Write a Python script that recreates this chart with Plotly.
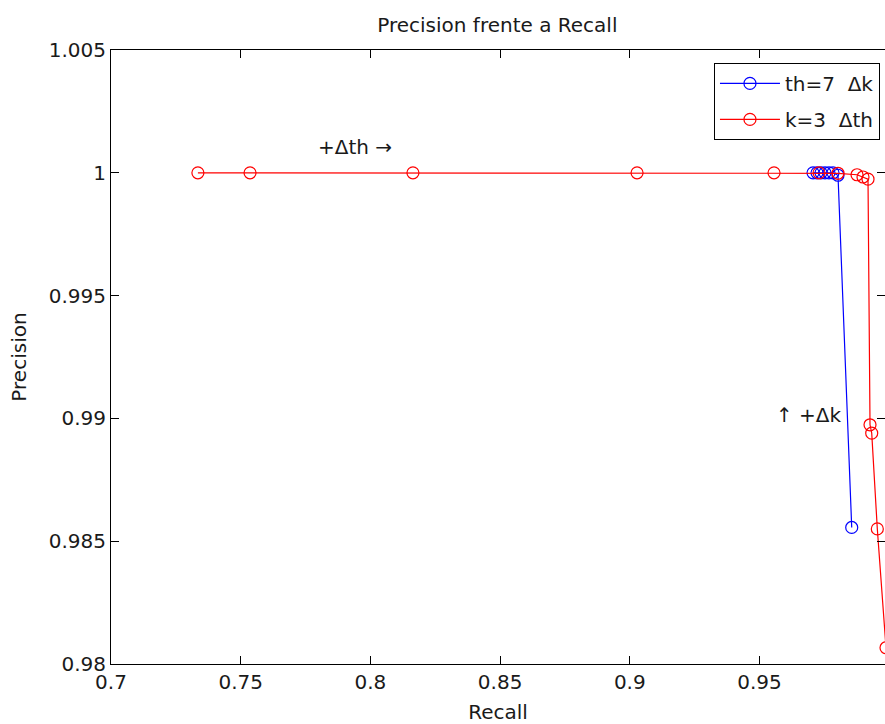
import plotly.graph_objects as go

# Recall / precision pairs for each sweep
recall_k = [0.97063, 0.97217, 0.97371, 0.97525, 0.97679, 0.97833, 0.98026, 0.98555]
precision_k = [1.0, 1.0, 1.0, 1.0, 1.0, 1.0, 0.99990, 0.98556]

recall_th = [0.7335, 0.7536, 0.8164, 0.9028, 0.9556, 0.97294, 0.98026,
             0.98759, 0.98990, 0.99183, 0.99260, 0.99326, 0.99542, 0.99877]
precision_th = [1.0, 1.0, 1.0, 1.0, 1.0, 1.0, 0.99998,
                0.99992, 0.99983, 0.99974, 0.98974, 0.98940, 0.98550, 0.98066]

x_ticks = [0.7, 0.75, 0.8, 0.85, 0.9, 0.95, 1.0]
x_tick_labels = ["0.7", "0.75", "0.8", "0.85", "0.9", "0.95", "1"]
y_ticks = [0.98, 0.985, 0.99, 0.995, 1.0, 1.005]
y_tick_labels = ["0.98", "0.985", "0.99", "0.995", "1", "1.005"]

FONT = "DejaVu Sans, Verdana, sans-serif"
TXT = "#1a1a1a"
FS = 20

fig = go.Figure()
fig.add_trace(go.Scatter(
    x=recall_k, y=precision_k, mode="lines+markers", name="th=7  \u0394k",
    legendgroup="k",
    line=dict(color="#0000ff", width=1.2),
    marker=dict(symbol="circle-open", size=12, color="#0000ff", line=dict(width=1.2)),
))
fig.add_trace(go.Scatter(
    x=recall_th, y=precision_th, mode="lines+markers", name="k=3  \u0394th",
    legendgroup="th",
    line=dict(color="#ff0000", width=1.2),
    marker=dict(symbol="circle-open", size=12, color="#ff0000", line=dict(width=1.2)),
))

fig.add_annotation(x=0.7942, y=1.00106, text="+\u0394th \u2192", showarrow=False,
                   font=dict(family=FONT, size=FS, color=TXT))
fig.add_annotation(x=0.9689, y=0.99015, text="\u2191 +\u0394k", showarrow=False,
                   font=dict(family=FONT, size=FS, color=TXT))

axis_common = dict(
    showgrid=False, zeroline=False, showline=True, linecolor="#000", linewidth=1,
    mirror="ticks", ticks="inside", ticklen=8, tickcolor="#000", tickwidth=1,
    tickfont=dict(family=FONT, size=FS, color=TXT),
)

fig.update_layout(
    width=885, height=724,
    margin=dict(l=111, r=0, t=50, b=60),
    paper_bgcolor="white", plot_bgcolor="white",
    title=dict(text="Precision frente a Recall", x=0.562, xanchor="center",
               y=0.965, yanchor="middle",
               font=dict(family=FONT, size=FS, color=TXT)),
    xaxis=dict(range=[0.7, 0.99838], tickvals=x_ticks, ticktext=x_tick_labels,
               title=dict(text="Recall", standoff=14,
                          font=dict(family=FONT, size=FS, color=TXT)),
               **axis_common),
    yaxis=dict(range=[0.98, 1.005], tickvals=y_ticks, ticktext=y_tick_labels,
               title=dict(text="Precision", standoff=16,
                          font=dict(family=FONT, size=FS, color=TXT)),
               **axis_common),
    legend=dict(x=0.9935, y=0.979, xanchor="right", yanchor="top",
                bgcolor="white", bordercolor="#000", borderwidth=1,
                font=dict(family=FONT, size=FS, color=TXT),
                itemwidth=60, tracegroupgap=7),
    showlegend=True,
)

fig.write_html("out.html")
